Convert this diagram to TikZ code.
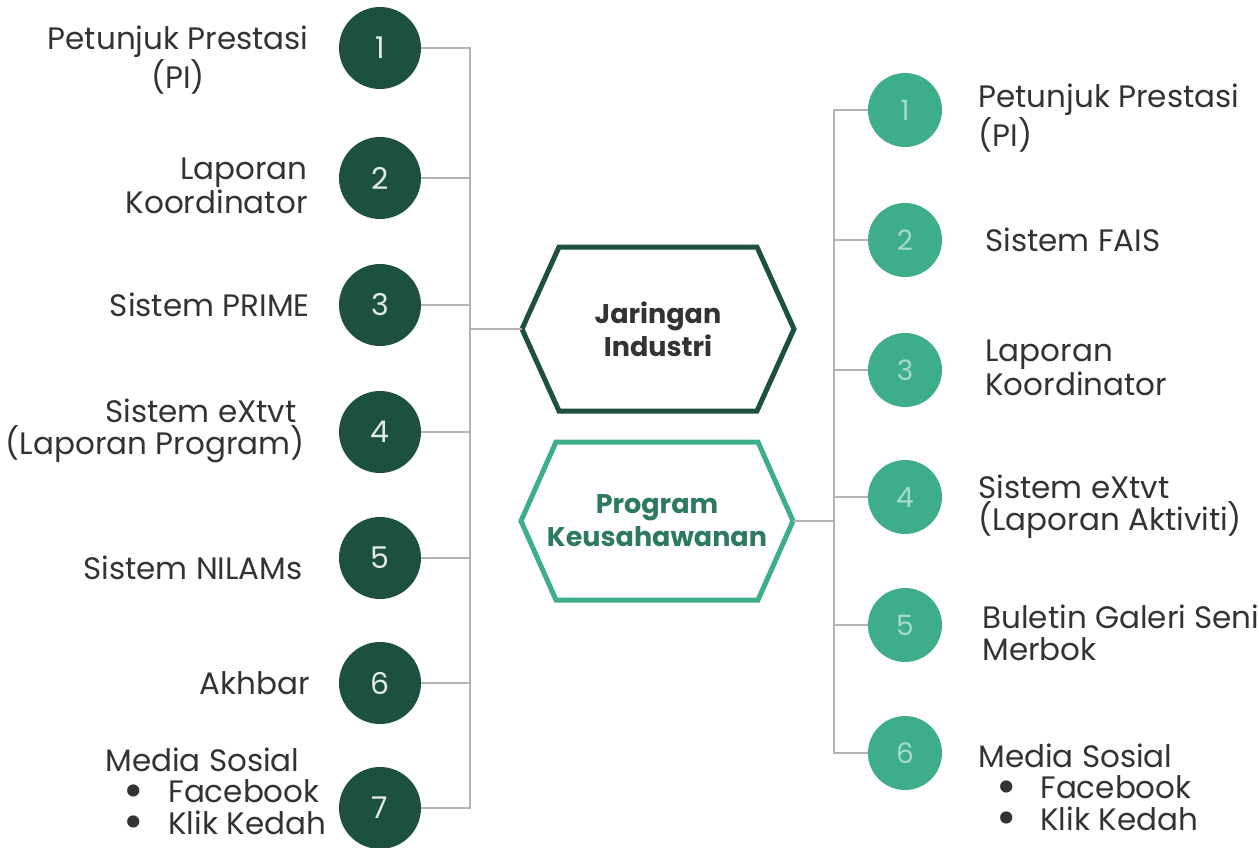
\documentclass[tikz,border=0pt]{standalone}
\usepackage{fontspec}
\setmainfont{Poppins}
\definecolor{darkgreen}{HTML}{1D5041}
\definecolor{lightgreen}{HTML}{3DAD8B}
\definecolor{progtext}{HTML}{2E7A60}
\definecolor{busgrey}{HTML}{B4B4B4}
\definecolor{textgrey}{HTML}{333333}
\newcommand{\bigdot}{\smash{\raisebox{-2.3pt}{\scalebox{1.6}{\textbullet}}}}

\begin{document}
\begin{tikzpicture}[
  x=0.5pt, y=-0.5pt,
  darkdot/.style={circle, fill=darkgreen, minimum size=41pt, inner sep=0pt,
    text=white!88!darkgreen, font=\fontsize{15}{15}\selectfont},
  lightdot/.style={circle, fill=lightgreen, minimum size=37pt, inner sep=0pt,
    text=white!55!lightgreen, font=\fontsize{14}{14}\selectfont},
  itemtext/.style={font=\fontsize{15.5}{15.8}\selectfont, text=textgrey, inner sep=0pt},
  hextext/.style={inner sep=0pt, align=center, font=\bfseries\fontsize{13.5}{16.5}\selectfont},
  hexline/.style={line width=2.5pt, line join=miter},
  bus/.style={draw=busgrey, line width=1pt}
]
\useasboundingbox (0,0) rectangle (1259,847);

% centre hexagons
\node[hextext, text=textgrey] (jaringan) at (658,329) {Jaringan\\Industri};
\coordinate (jaringan west) at (522,329);
\draw[hexline, draw=darkgreen] (jaringan west) -- ++(37,-82) -- ++(198,0) -- ++(37,82)
  -- ++(-37,82) -- ++(-198,0) -- cycle;

\node[hextext, text=progtext] (program) at (657,521) {Program\\Keusahawanan};
\coordinate (program east) at (793,521);
\draw[hexline, draw=lightgreen] (program east) -- ++(-35,-79) -- ++(-202,0) -- ++(-35,79)
  -- ++(35,79) -- ++(202,0) -- cycle;

% left column
\node[darkdot] (l1) at (380,48) {1};
\node[darkdot] (l2) at (380,178) {2};
\node[darkdot] (l3) at (380,305) {3};
\node[darkdot] (l4) at (380,432) {4};
\node[darkdot] (l5) at (380,558) {5};
\node[darkdot] (l6) at (380,683) {6};
\node[darkdot] (l7) at (380,808) {7};

\node[itemtext, anchor=east, align=center] (t1) at (309,60) {Petunjuk Prestasi\\(PI)};
\node[itemtext, anchor=east, align=right] (t2) at (308,186) {Laporan\\Koordinator};
\node[itemtext, anchor=east] (t3) at (310,305) {Sistem PRIME};
\node[itemtext, anchor=east, align=right] (t4) at (305,431) {Sistem eXtvt\hspace*{4pt}\\(Laporan Program)};
\node[itemtext, anchor=east] (t5) at (303,568) {Sistem NILAMs};
\node[itemtext, anchor=east] (t6) at (310,683) {Akhbar};
\node[itemtext, anchor=west, align=left] (t7) at (105,791) {Media Sosial\\
  \makebox[31.5pt][l]{\hspace{9pt}\bigdot}Facebook\\
  \makebox[31.5pt][l]{\hspace{9pt}\bigdot}Klik Kedah};

% right column
\node[lightdot] (r1) at (905,110) {1};
\node[lightdot] (r2) at (905,240) {2};
\node[lightdot] (r3) at (905,370) {3};
\node[lightdot] (r4) at (905,497) {4};
\node[lightdot] (r5) at (905,625) {5};
\node[lightdot] (r6) at (905,753) {6};

\node[itemtext, anchor=west, align=left] (s1) at (978,118) {Petunjuk Prestasi\\(PI)};
\node[itemtext, anchor=west] (s2) at (985,240) {Sistem FAIS};
\node[itemtext, anchor=west, align=left] (s3) at (985,368) {Laporan\\Koordinator};
\node[itemtext, anchor=west, align=left] (s4) at (978,507) {Sistem eXtvt\\(Laporan Aktiviti)};
\node[itemtext, anchor=west, align=left] (s5) at (982,633) {Buletin Galeri Seni\\Merbok};
\node[itemtext, anchor=west, align=left] (s6) at (978,787) {Media Sosial\\
  \makebox[31pt][l]{\hspace{9pt}\bigdot}Facebook\\
  \makebox[31pt][l]{\hspace{9pt}\bigdot}Klik Kedah};

% connectors
\coordinate (lbar) at (470,0);
\coordinate (rbar) at (834,0);
\draw[bus] (l1.east) -| (l7 -| lbar) -- (l7.east);
\draw[bus] (l2.east) -- (l2 -| lbar);
\draw[bus] (l3.east) -- (l3 -| lbar);
\draw[bus] (l4.east) -- (l4 -| lbar);
\draw[bus] (l5.east) -- (l5 -| lbar);
\draw[bus] (l6.east) -- (l6 -| lbar);
\draw[bus] (jaringan west) -- (jaringan west -| lbar);

\draw[bus] (r1.west) -| (r6 -| rbar) -- (r6.west);
\draw[bus] (r2.west) -- (r2 -| rbar);
\draw[bus] (r3.west) -- (r3 -| rbar);
\draw[bus] (r4.west) -- (r4 -| rbar);
\draw[bus] (r5.west) -- (r5 -| rbar);
\draw[bus] (program east) -- (program east -| rbar);
\end{tikzpicture}
\end{document}
